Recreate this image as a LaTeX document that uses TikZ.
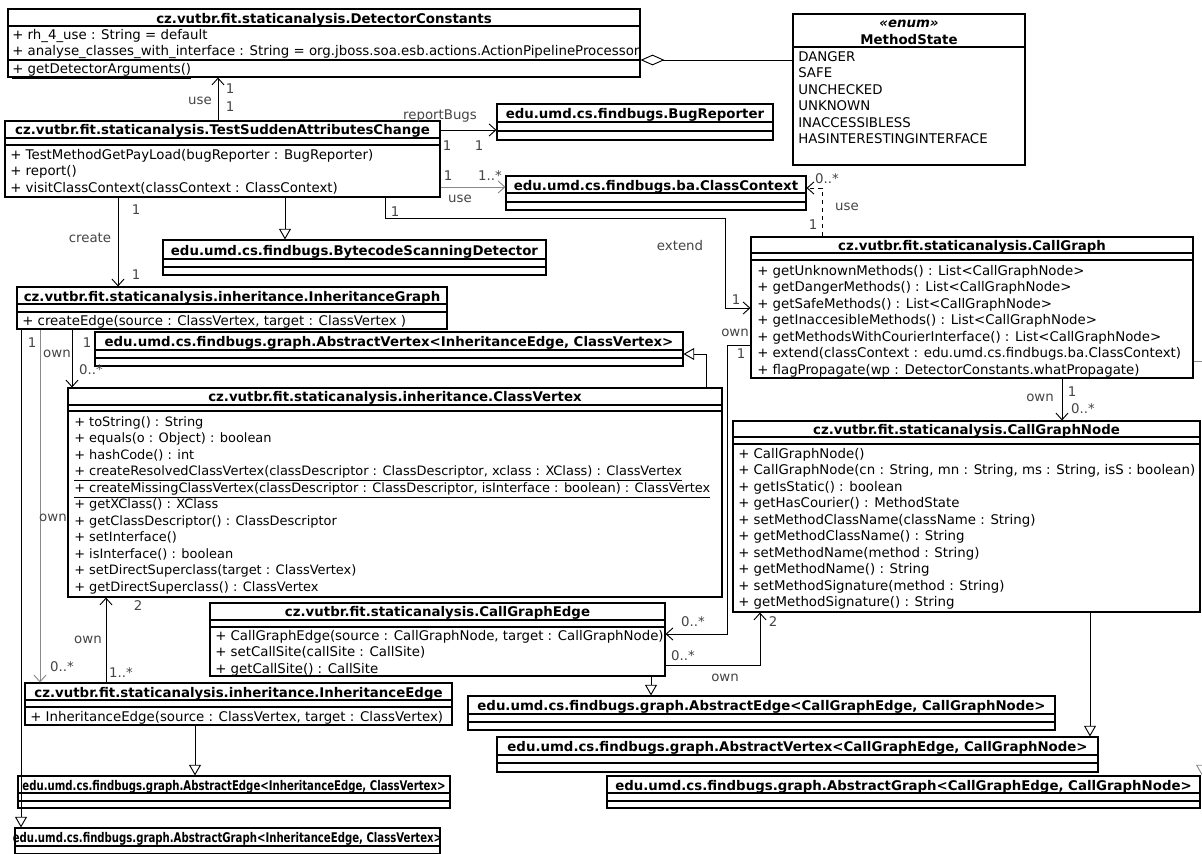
\documentclass[tikz,border=0pt]{standalone}
\usepackage{fontspec}
\setmainfont{DejaVu Sans}
\usetikzlibrary{arrows.meta,fit}
\definecolor{lblgray}{HTML}{454545}
\definecolor{wiregray}{HTML}{8A8A8A}
\tikzset{
  cls/.style={draw, line width=0.8pt, inner sep=0pt, fill=white},
  csep/.style={line width=0.8pt},
  ttl/.style={font=\bfseries, inner sep=0pt, anchor=mid, yshift=-1.3pt},
  mbr/.style={inner sep=0pt, anchor=mid west, yshift=-1.3pt},
  lbl/.style={text=lblgray, inner sep=0pt},
  assoc/.style={line width=0.7pt, -{Straight Barb[length=5pt,width=9pt]}},
  gen/.style={line width=0.7pt, -{Triangle[open,length=8pt,width=9pt]}},
  aggr/.style={line width=0.7pt, {Diamond[open,length=18pt,width=8pt]}-},
  dep/.style={assoc, dashed}
}
% box: name, corner, corner, title y, title, separator ys
\newcommand{\umlbox}[6]{%
  \node[cls, fit={#2 #3}] (#1) {};
  \node[ttl] (#1-t) at (#1.north |- 0,#4) {#5};
  \foreach \sy in {#6} \draw[csep] (#1.west |- 0,\sy) -- (#1.east |- 0,\sy);
}
% members: prefix, x, first y, list
\newcommand{\umlmembers}[4]{%
  \foreach \m [count=\i] in {#4} \node[mbr] (#1\i) at (#2,{#3+(\i-1)*16.5}) {\m};
}
\newcommand{\narrow}[1]{\scalebox{0.76}[1]{#1}}
\begin{document}
\begin{tikzpicture}[x=0.75pt, y=-0.75pt]
\useasboundingbox (0,0) rectangle (1202,853);
\clip (0,0) rectangle (1202,853);
\fill[white] (0,0) rectangle (1202,853);

% classes
\umlbox{dc}{(8,9)}{(640,77)}{18}{cz.vutbr.fit.staticanalysis.DetectorConstants}{26,60}
\umlmembers{dc-a}{12}{34}{{+ rh\_4\_use : String = default},{+ analyse\_classes\_with\_interface : String = org.jboss.soa.esb.actions.ActionPipelineProcessor}}
\umlmembers{dc-m}{12}{68}{\underline{+ getDetectorArguments()}}

\umlbox{ms}{(793,14)}{(1025,165)}{39}{MethodState}{47}
\node[ttl, font=\bfseries\itshape] (ms-s) at (ms.north |- 0,22) {«enum»};
\umlmembers{ms-a}{798}{56}{DANGER,SAFE,UNCHECKED,UNKNOWN,INACCESSIBLESS,HASINTERESTINGINTERFACE}

\umlbox{tsac}{(5,121)}{(440,197)}{129.5}{cz.vutbr.fit.staticanalysis.TestSuddenAttributesChange}{138,145}
\umlmembers{tsac-m}{10}{154}{{+ TestMethodGetPayLoad(bugReporter : BugReporter)},{+ report()},{+ visitClassContext(classContext : ClassContext)}}

\umlbox{br}{(497,104)}{(773,140)}{113}{edu.umd.cs.findbugs.BugReporter}{122,131}
\umlbox{cc}{(506,176)}{(806,210)}{185}{edu.umd.cs.findbugs.ba.ClassContext}{193,202}
\umlbox{bsd}{(163,240)}{(546,275)}{250}{edu.umd.cs.findbugs.BytecodeScanningDetector}{259,267}

\umlbox{ig}{(17,287)}{(447,329)}{296}{cz.vutbr.fit.staticanalysis.inheritance.InheritanceGraph}{304,312}
\umlmembers{ig-m}{22}{320}{{+ createEdge(source : ClassVertex, target : ClassVertex )}}

\umlbox{avi}{(95,332)}{(683,366)}{341}{edu.umd.cs.findbugs.graph.AbstractVertex<InheritanceEdge, ClassVertex>}{350,358}

\umlbox{cv}{(68,388)}{(722,597)}{396.5}{cz.vutbr.fit.staticanalysis.inheritance.ClassVertex}{405,411}
\begin{scope}[every node/.append style={font=\fontsize{9.7}{12}\selectfont}]
\umlmembers{cv-m}{74}{421}{{+ toString() : String},{+ equals(o : Object) : boolean},{+ hashCode() : int},
  {\underline{+ createResolvedClassVertex(classDescriptor : ClassDescriptor, xclass : XClass) : ClassVertex}},
  {\underline{+ createMissingClassVertex(classDescriptor : ClassDescriptor, isInterface : boolean) : ClassVertex}},
  {+ getXClass() : XClass},{+ getClassDescriptor() : ClassDescriptor},{+ setInterface()},{+ isInterface() : boolean},
  {+ setDirectSuperclass(target : ClassVertex)},{+ getDirectSuperclass() : ClassVertex}}
\end{scope}

\umlbox{cg}{(751,237)}{(1193,378)}{245}{cz.vutbr.fit.staticanalysis.CallGraph}{253,260}
\umlmembers{cg-m}{757}{270}{{+ getUnknownMethods() : List<CallGraphNode>},{+ getDangerMethods() : List<CallGraphNode>},
  {+ getSafeMethods() : List<CallGraphNode>},{+ getInaccesibleMethods() : List<CallGraphNode>},
  {+ getMethodsWithCourierInterface() : List<CallGraphNode>},{+ extend(classContext : edu.umd.cs.findbugs.ba.ClassContext)},
  {+ flagPropagate(wp : DetectorConstants.whatPropagate)}}

\umlbox{cgn}{(733,421)}{(1200,612)}{429}{cz.vutbr.fit.staticanalysis.CallGraphNode}{437,444}
\umlmembers{cgn-m}{738}{453}{{+ CallGraphNode()},{+ CallGraphNode(cn : String, mn : String, ms : String, isS : boolean)},
  {+ getIsStatic() : boolean},{+ getHasCourier() : MethodState},{+ setMethodClassName(className : String)},
  {+ getMethodClassName() : String},{+ setMethodName(method : String)},{+ getMethodName() : String},
  {+ setMethodSignature(method : String)},{+ getMethodSignature() : String}}

\umlbox{cge}{(210,603)}{(665,676)}{611}{cz.vutbr.fit.staticanalysis.CallGraphEdge}{620,627}
\umlmembers{cge-m}{215}{635}{{+ CallGraphEdge(source : CallGraphNode, target : CallGraphNode)},{+ setCallSite(callSite : CallSite)},{+ getCallSite() : CallSite}}

\umlbox{ie}{(25,683)}{(452,725)}{692}{cz.vutbr.fit.staticanalysis.inheritance.InheritanceEdge}{700,707}
\umlmembers{ie-m}{30}{716}{{+ InheritanceEdge(source : ClassVertex, target : ClassVertex)}}

\umlbox{aec}{(468,696)}{(1055,730)}{705}{edu.umd.cs.findbugs.graph.AbstractEdge<CallGraphEdge, CallGraphNode>}{714,722}
\umlbox{avc}{(497,737)}{(1098,772)}{746}{edu.umd.cs.findbugs.graph.AbstractVertex<CallGraphEdge, CallGraphNode>}{755,763}
\umlbox{aei}{(18,776)}{(450,808)}{785}{\narrow{edu.umd.cs.findbugs.graph.AbstractEdge<InheritanceEdge, ClassVertex>}}{793,801}
\umlbox{agc}{(607,776)}{(1200,808)}{785}{edu.umd.cs.findbugs.graph.AbstractGraph<CallGraphEdge, CallGraphNode>}{793,801}
\umlbox{agi}{(15,828)}{(440,875)}{837}{\narrow{edu.umd.cs.findbugs.graph.AbstractGraph<InheritanceEdge, ClassVertex>}}{846,854}

% connectors
\draw[aggr] (dc.east |- 0,60) -- (ms.west |- 0,60);

\draw[assoc] (tsac.north -| 218,0) -- (dc.south -| 218,0);
\node[lbl] (l1) at (200,101) {use};
\node[lbl] (l2) at (230,89) {1};
\node[lbl] (l3) at (230,107) {1};

\draw[assoc] (tsac.east |- 0,130) -- (br.west |- 0,130);
\node[lbl] (l4) at (440,116) {reportBugs};
\node[lbl] (l5) at (447,146) {1};
\node[lbl] (l6) at (479,146) {1};

\draw[assoc, wiregray] (tsac.east |- 0,187) -- (cc.west |- 0,187);
\node[lbl] (l7) at (448,176) {1};
\node[lbl] (l8) at (490,176) {1..*};
\node[lbl] (l9) at (460,199) {use};

\draw[dep] (cg.north -| 822,0) |- (cc.east |- 0,188);
\node[lbl] (l10) at (827,179) {0..*};
\node[lbl] (l11) at (847,207) {use};
\node[lbl] (l12) at (813,225) {1};

\draw[gen] (tsac.south -| 285,0) -- (bsd.north -| 285,0);

\draw[assoc] (tsac.south -| 118,0) -- (ig.north -| 118,0);
\node[lbl] (l13) at (136,210) {1};
\node[lbl] (l14) at (90,238) {create};
\node[lbl] (l15) at (136,275) {1};

\draw[assoc] (tsac.south -| 385,0) |- (725,218) |- (cg.west |- 0,308);
\node[lbl] (l16) at (395,212) {1};
\node[lbl] (l17) at (680,246) {extend};
\node[lbl] (l18) at (736,300) {1};

\draw[gen] (ig.south -| 21,0) -- (agi.north -| 21,0);
\draw[assoc, wiregray] (ig.south -| 40,0) -- (ie.north -| 40,0);
\node[lbl] (l19) at (32,343) {1};
\node[lbl] (l20) at (53,518) {own};
\node[lbl] (l21) at (62,667) {0..*};

\draw[assoc] (ig.south -| 72,0) -- (cv.north -| 72,0);
\node[lbl] (l22) at (57,354) {own};
\node[lbl] (l23) at (87,343) {1};
\node[lbl] (l24) at (91,370) {0..*};

\draw[assoc] (ie.north -| 106,0) -- (cv.south -| 106,0);
\node[lbl] (l25) at (138,606) {2};
\node[lbl] (l26) at (88,640) {own};
\node[lbl] (l27) at (121,673) {1..*};

\draw[gen] (cv.north -| 706,0) |- (avi.east |- 0,354);
\draw[gen] (ie.south -| 195,0) -- (aei.north -| 195,0);
\draw[gen] (cge.south -| 651,0) -- (aec.north -| 651,0);
\draw[gen] (cgn.south -| 1090,0) -- (avc.north -| 1090,0);

\draw[assoc] (cg.south -| 1062,0) -- (cgn.north -| 1062,0);
\node[lbl] (l28) at (1040,398) {own};
\node[lbl] (l29) at (1072,392) {1};
\node[lbl] (l30) at (1083,409) {0..*};

\draw[assoc] (cg.west |- 0,345) -| (727,634) -- (cge.east |- 0,634);
\node[lbl] (l31) at (735,333) {own};
\node[lbl] (l32) at (741,354) {1};
\node[lbl] (l33) at (693,622) {0..*};

\draw[assoc] (cge.east |- 0,665) -| (cgn.south -| 760,0);
\node[lbl] (l34) at (683,656) {0..*};
\node[lbl] (l35) at (725,678) {own};
\node[lbl] (l36) at (773,622) {2};

\draw[gen, wiregray] (cg.east |- 0,361) -| (agc.north -| 1202,0);
\end{tikzpicture}
\end{document}
